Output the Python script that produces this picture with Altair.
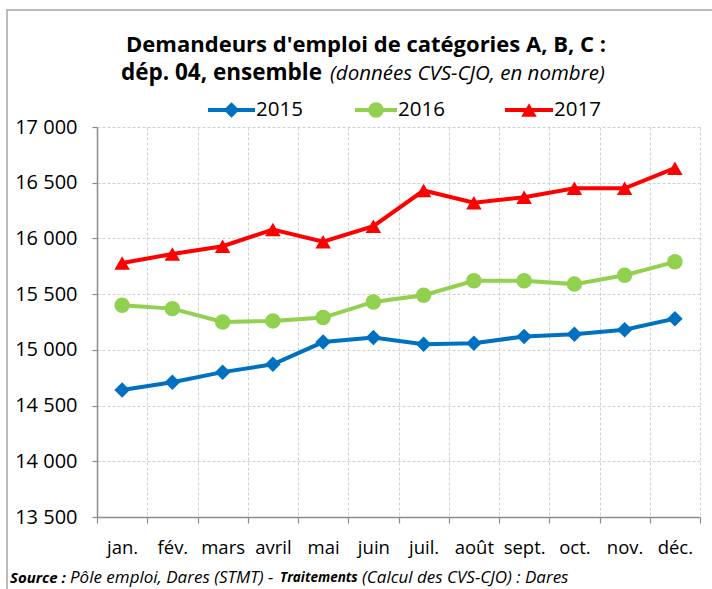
import altair as alt
import pandas as pd

months = ["jan.", "fév.", "mars", "avril", "mai", "juin", "juil.", "août", "sept.", "oct.", "nov.", "déc."]
years = ["2015", "2016", "2017"]
v2015 = [14640, 14710, 14800, 14870, 15070, 15110, 15050, 15060, 15120, 15140, 15180, 15280]
v2016 = [15400, 15370, 15250, 15260, 15290, 15430, 15490, 15620, 15620, 15590, 15670, 15790]
v2017 = [15780, 15860, 15930, 16080, 15970, 16110, 16430, 16320, 16370, 16450, 16450, 16630]
colors = ["#0070C0", "#92D050", "#FF0000"]
shapes = ["diamond", "circle", "triangle-up"]
y_ticks = [13500, 14000, 14500, 15000, 15500, 16000, 16500, 17000]

title1 = "Demandeurs d'emploi de catégories A, B, C :"
title2a = "dép. 04, ensemble"
title2b = "(données CVS-CJO, en nombre)"
src = [("Source :", "bold", 15), ("Pôle emploi, Dares (STMT) - ", "normal", 17),
       ("Traitements", "bold", 13.5), ("(Calcul des CVS-CJO) : Dares", "normal", 17)]

FONT = "Open Sans"
W, H = 603, 390

rows = []
for yr, vals in zip(years, [v2015, v2016, v2017]):
    for m, v in zip(months, vals):
        rows.append({"mois": m, "annee": yr, "valeur": v})
df = pd.DataFrame(rows)

xenc = alt.X("mois:N", sort=months, title=None,
             scale=alt.Scale(type="band", paddingInner=0, paddingOuter=0),
             axis=alt.Axis(tickBand="extent", labelAngle=0, labelFont=FONT, labelFontSize=18.5,
                           labelColor="#000000", labelPadding=15, tickSize=6, tickColor="#8c8c8c",
                           domainColor="#8c8c8c", domainWidth=1.5, tickWidth=1.2,
                           grid=True, gridDash=[3, 2], gridColor="#d0d0d0", gridWidth=1))
yenc = alt.Y("valeur:Q", title=None,
             scale=alt.Scale(domain=[13500, 17000], nice=False, zero=False),
             axis=alt.Axis(values=y_ticks, labelFont=FONT, labelFontSize=20, labelColor="#000000",
                           labelExpr="replace(format(datum.value, ','), ',', ' ')",
                           labelPadding=15, tickSize=5, tickColor="#8c8c8c", tickWidth=1.2,
                           domainColor="#8c8c8c", domainWidth=1.5,
                           grid=True, gridDash=[3, 2], gridColor="#d0d0d0", gridWidth=1))
cenc = alt.Color("annee:N", scale=alt.Scale(domain=years, range=colors), legend=None)
senc = alt.Shape("annee:N", scale=alt.Scale(domain=years, range=shapes), legend=None)

MS = 240
base = alt.Chart(df)
lines = base.mark_line(strokeWidth=4).encode(x=xenc, y=yenc, color=cenc, detail="annee:N")
pts = base.mark_point(filled=True, size=MS, opacity=1).encode(x=xenc, y=yenc, color=cenc, shape=senc)

one = pd.DataFrame({"k": [0]})
layers = [lines, pts]

# frame around the whole chart
layers.append(alt.Chart(one).mark_rect(fill=None, stroke="#a6a6a6", strokeWidth=1.5).encode(
    x=alt.value(-90), x2=alt.value(640), y=alt.value(-117), y2=alt.value(500)))

# title
layers.append(alt.Chart(one).mark_text(text=title1, font=FONT, fontSize=22, fontWeight="bold",
                                       align="center", baseline="middle", color="#000000").encode(
    x=alt.value(269), y=alt.value(-82)))
layers.append(alt.Chart(one).mark_text(text=title2a, font=FONT, fontSize=22.5, fontWeight="bold",
                                       align="right", baseline="middle", color="#000000").encode(
    x=alt.value(225), y=alt.value(-54)))
layers.append(alt.Chart(one).mark_text(text=title2b, font=FONT, fontSize=20.5, fontStyle="italic",
                                       align="left", baseline="middle", color="#000000").encode(
    x=alt.value(233), y=alt.value(-53)))

# legend
leg_line = [(111, 158), (258, 300), (408, 456)]
for yr, col, shp, (a, b) in zip(years, colors, shapes, leg_line):
    layers.append(alt.Chart(one).mark_rule(color=col, strokeWidth=4).encode(
        x=alt.value(a), x2=alt.value(b), y=alt.value(-17)))
    layers.append(alt.Chart(one).mark_point(filled=True, size=MS, opacity=1, color=col, shape=shp).encode(
        x=alt.value((a + b) / 2), y=alt.value(-17)))
    layers.append(alt.Chart(one).mark_text(text=yr, font=FONT, fontSize=20.5, align="left",
                                           baseline="middle", color="#000000").encode(
        x=alt.value(b + 1), y=alt.value(-17)))

# source
src_x = [-87, -27, 183, 265]
for (t, w, fs), sx in zip(src, src_x):
    layers.append(alt.Chart(one).mark_text(text=t, font=FONT, fontSize=fs, fontStyle="italic",
                                           fontWeight=w, align="left", baseline="middle",
                                           color="#000000").encode(
        x=alt.value(sx), y=alt.value(451)))

chart = alt.layer(*layers).properties(
    width=W, height=H,
    autosize=alt.AutoSizeParams(type="none"),
    padding={"left": 97, "top": 127, "right": 12, "bottom": 72},
    background="#ffffff",
).configure_view(stroke=None)

chart.save("out.html", embed_options={"renderer": "svg", "actions": False})
